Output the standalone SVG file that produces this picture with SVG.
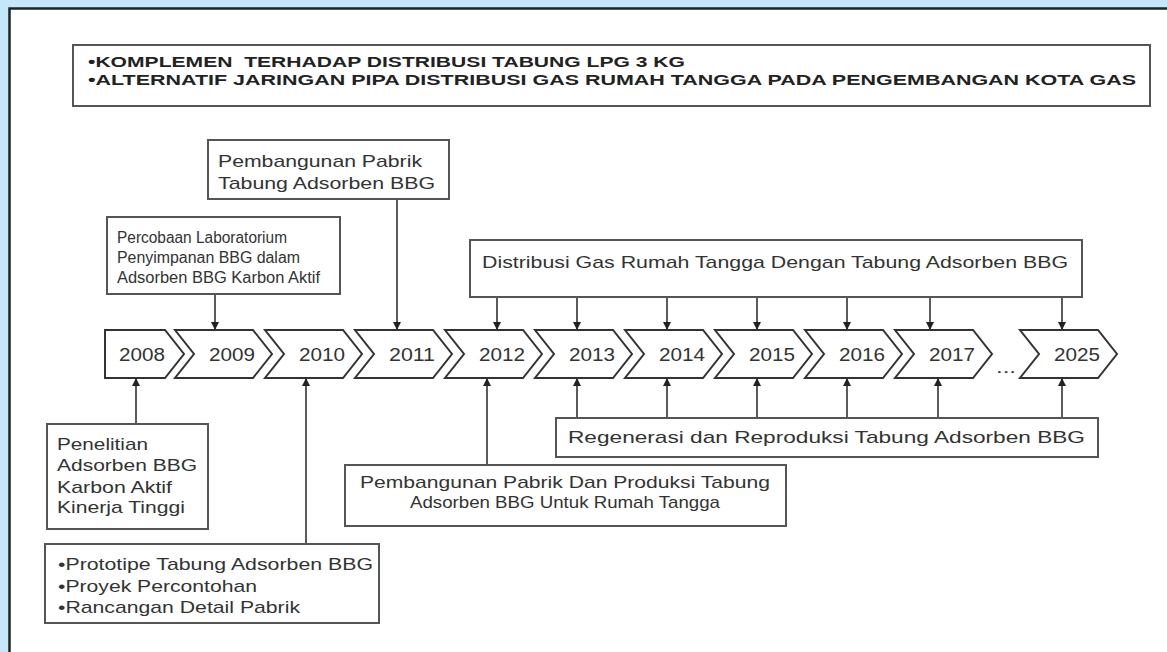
<svg xmlns="http://www.w3.org/2000/svg" width="1167" height="652" viewBox="0 0 1167 652">
<style>
.box{fill:#fff;stroke:#555;stroke-width:2}
.t{font-family:"Liberation Sans",Arial,sans-serif;font-size:17px;fill:#333}
.s{font-size:16px}
.b{font-weight:bold;font-size:14px;fill:#222}
.chev{fill:#fff;stroke:#333;stroke-width:2;stroke-linejoin:miter}
.yr{font-size:18px;text-anchor:middle}
.ln{stroke:#333;stroke-width:1.6;fill:none;marker-end:url(#ah)}
</style>
<defs>
<marker id="ah" viewBox="0 0 10 10" refX="10" refY="5" markerWidth="9" markerHeight="8" markerUnits="userSpaceOnUse" orient="auto"><path d="M0,0 L10,5 L0,10 z" fill="#222"/></marker>
</defs>
<rect x="0" y="0" width="1167" height="652" fill="#c6e7f7"/>
<rect x="9.5" y="8.5" width="1170" height="660" fill="#fff" stroke="#222" stroke-width="2.5"/>

<g id="header">
<rect class="box" x="73" y="45" width="1077" height="61"/>
<text class="t b" x="88" y="67" xml:space="preserve" textLength="597" lengthAdjust="spacingAndGlyphs">•KOMPLEMEN  TERHADAP DISTRIBUSI TABUNG LPG 3 KG</text>
<text class="t b" x="88" y="85" textLength="1048" lengthAdjust="spacingAndGlyphs">•ALTERNATIF JARINGAN PIPA DISTRIBUSI GAS RUMAH TANGGA PADA PENGEMBANGAN KOTA GAS</text>
</g>

<g id="timeline">
<path class="chev" d="M105,330 H165 L184,354 L165,378 H105 Z"/>
<path class="chev" d="M175,330 h78 l19,24 l-19,24 h-78 l19,-24 Z"/>
<path class="chev" d="M265,330 h78 l19,24 l-19,24 h-78 l19,-24 Z"/>
<path class="chev" d="M355,330 h78 l19,24 l-19,24 h-78 l19,-24 Z"/>
<path class="chev" d="M445,330 h78 l19,24 l-19,24 h-78 l19,-24 Z"/>
<path class="chev" d="M535,330 h78 l19,24 l-19,24 h-78 l19,-24 Z"/>
<path class="chev" d="M625,330 h78 l19,24 l-19,24 h-78 l19,-24 Z"/>
<path class="chev" d="M715,330 h78 l19,24 l-19,24 h-78 l19,-24 Z"/>
<path class="chev" d="M805,330 h78 l19,24 l-19,24 h-78 l19,-24 Z"/>
<path class="chev" d="M895,330 h78 l19,24 l-19,24 h-78 l19,-24 Z"/>
<path class="chev" d="M1020,330 h78 l19,24 l-19,24 h-78 l19,-24 Z"/>
<text class="t yr" x="142" y="361" textLength="46" lengthAdjust="spacingAndGlyphs">2008</text>
<text class="t yr" x="232" y="361" textLength="46" lengthAdjust="spacingAndGlyphs">2009</text>
<text class="t yr" x="322" y="361" textLength="46" lengthAdjust="spacingAndGlyphs">2010</text>
<text class="t yr" x="412" y="361" textLength="46" lengthAdjust="spacingAndGlyphs">2011</text>
<text class="t yr" x="502" y="361" textLength="46" lengthAdjust="spacingAndGlyphs">2012</text>
<text class="t yr" x="592" y="361" textLength="46" lengthAdjust="spacingAndGlyphs">2013</text>
<text class="t yr" x="682" y="361" textLength="46" lengthAdjust="spacingAndGlyphs">2014</text>
<text class="t yr" x="772" y="361" textLength="46" lengthAdjust="spacingAndGlyphs">2015</text>
<text class="t yr" x="862" y="361" textLength="46" lengthAdjust="spacingAndGlyphs">2016</text>
<text class="t yr" x="952" y="361" textLength="46" lengthAdjust="spacingAndGlyphs">2017</text>
<text class="t yr" x="1077" y="361" textLength="46" lengthAdjust="spacingAndGlyphs">2025</text>
<text class="t" x="996" y="373" textLength="20" lengthAdjust="spacingAndGlyphs">...</text>
</g>

<g id="percobaan">
<rect class="box" x="107" y="217" width="233" height="77"/>
<text class="t s" x="117" y="243" textLength="170" lengthAdjust="spacingAndGlyphs">Percobaan Laboratorium</text>
<text class="t s" x="117" y="263" textLength="183" lengthAdjust="spacingAndGlyphs">Penyimpanan BBG dalam</text>
<text class="t s" x="117" y="283" textLength="203" lengthAdjust="spacingAndGlyphs">Adsorben BBG Karbon Aktif</text>
</g>

<g id="pabrik">
<rect class="box" x="208" y="140" width="241" height="59"/>
<text class="t" x="218" y="167" textLength="204" lengthAdjust="spacingAndGlyphs">Pembangunan Pabrik</text>
<text class="t" x="218" y="189" textLength="217" lengthAdjust="spacingAndGlyphs">Tabung Adsorben BBG</text>
</g>

<g id="distribusi">
<rect class="box" x="470" y="240" width="612" height="57"/>
<text class="t" x="482" y="268" textLength="586" lengthAdjust="spacingAndGlyphs">Distribusi Gas Rumah Tangga Dengan Tabung Adsorben BBG</text>
</g>

<g id="penelitian">
<rect class="box" x="47" y="424" width="161" height="105"/>
<text class="t" x="57" y="450" textLength="91" lengthAdjust="spacingAndGlyphs">Penelitian</text>
<text class="t" x="57" y="471" textLength="140" lengthAdjust="spacingAndGlyphs">Adsorben BBG</text>
<text class="t" x="57" y="493" textLength="115" lengthAdjust="spacingAndGlyphs">Karbon Aktif</text>
<text class="t" x="57" y="513" textLength="128" lengthAdjust="spacingAndGlyphs">Kinerja Tinggi</text>
</g>

<g id="prototipe">
<rect class="box" x="45" y="544" width="334" height="79"/>
<text class="t" x="58" y="570" textLength="315" lengthAdjust="spacingAndGlyphs">•Prototipe Tabung Adsorben BBG</text>
<text class="t" x="58" y="592" textLength="199" lengthAdjust="spacingAndGlyphs">•Proyek Percontohan</text>
<text class="t" x="58" y="613" textLength="242" lengthAdjust="spacingAndGlyphs">•Rancangan Detail Pabrik</text>
</g>

<g id="produksi">
<rect class="box" x="345" y="465" width="441" height="61"/>
<text class="t" x="565" y="488" text-anchor="middle" textLength="410" lengthAdjust="spacingAndGlyphs">Pembangunan Pabrik Dan Produksi Tabung</text>
<text class="t" x="565" y="508" text-anchor="middle" textLength="310" lengthAdjust="spacingAndGlyphs">Adsorben BBG Untuk Rumah Tangga</text>
</g>

<g id="regenerasi">
<rect class="box" x="556" y="418" width="542" height="39"/>
<text class="t" x="568" y="443" textLength="517" lengthAdjust="spacingAndGlyphs">Regenerasi dan Reproduksi Tabung Adsorben BBG</text>
</g>

<g id="connectors">
<line class="ln" x1="215" y1="295" x2="215" y2="330"/>
<line class="ln" x1="397" y1="200" x2="397" y2="330"/>
<line class="ln" x1="497" y1="298" x2="497" y2="330"/>
<line class="ln" x1="577" y1="298" x2="577" y2="330"/>
<line class="ln" x1="667" y1="298" x2="667" y2="330"/>
<line class="ln" x1="757" y1="298" x2="757" y2="330"/>
<line class="ln" x1="847" y1="298" x2="847" y2="330"/>
<line class="ln" x1="930" y1="298" x2="930" y2="330"/>
<line class="ln" x1="1062" y1="298" x2="1062" y2="330"/>
<line class="ln" x1="136" y1="423" x2="136" y2="378"/>
<line class="ln" x1="306" y1="543" x2="306" y2="378"/>
<line class="ln" x1="487" y1="464" x2="487" y2="378"/>
<line class="ln" x1="577" y1="417" x2="577" y2="378"/>
<line class="ln" x1="667" y1="417" x2="667" y2="378"/>
<line class="ln" x1="757" y1="417" x2="757" y2="378"/>
<line class="ln" x1="847" y1="417" x2="847" y2="378"/>
<line class="ln" x1="938" y1="417" x2="938" y2="378"/>
<line class="ln" x1="1062" y1="417" x2="1062" y2="378"/>
</g>
</svg>
